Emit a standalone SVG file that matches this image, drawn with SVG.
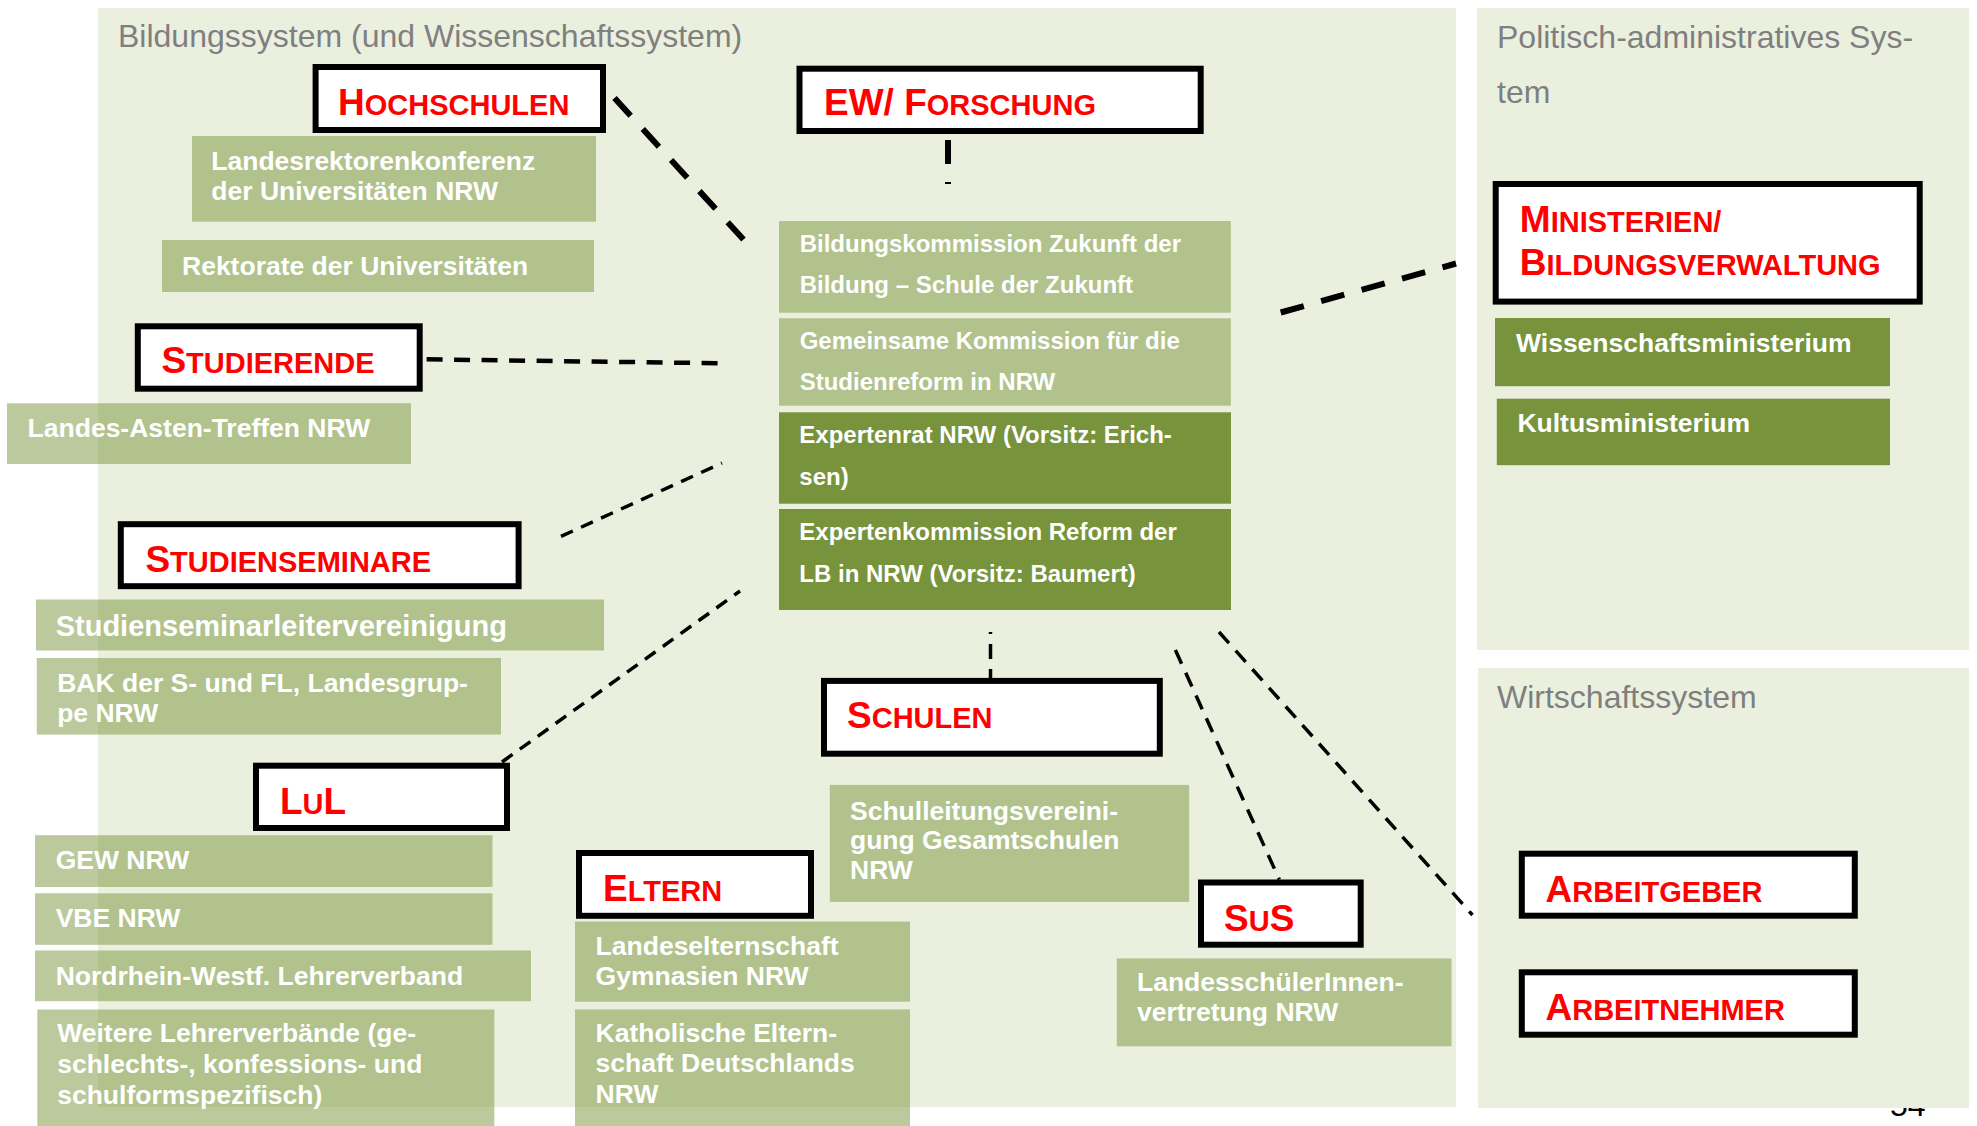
<svg xmlns="http://www.w3.org/2000/svg" width="1977" height="1126" viewBox="0 0 1977 1126">
<style>
.panel{fill:#EBF0DE}
.lg{fill:#77933C;fill-opacity:.5}
.dg{fill:#77933C}
.rb{fill:#fff;stroke:#000;stroke-width:6}
.rt{font-family:"Liberation Sans",Arial,sans-serif;font-weight:bold;fill:#FF0000;font-size:29px}
.b{font-size:37px}
.wt{font-family:"Liberation Sans",Arial,sans-serif;font-weight:bold;fill:#fff;font-size:26.5px}
.ct{font-size:24px}
.big{font-size:29px}
.title{font-family:"Liberation Sans",Arial,sans-serif;fill:#7F7F7F;font-size:32px}
.c{fill:none;stroke:#000}
.c1{stroke-width:6;stroke-dasharray:24 18}
.c2{stroke-width:4.5;stroke-dasharray:16 11.5}
.c3{stroke-width:3.5;stroke-dasharray:13 9}
.c4{stroke-width:3.5;stroke-dasharray:15 10}
</style>
<rect width="1977" height="1126" fill="#fff"/>
<text x="1890" y="1116" font-family="Liberation Sans, Arial, sans-serif" font-size="32" fill="#000">54</text>
<g id="panels">
<rect class="panel" x="98" y="8" width="1358" height="1099"/>
<rect class="panel" x="1477" y="8" width="492" height="642"/>
<rect class="panel" x="1478" y="668" width="491" height="440"/>
<text class="title" x="118" y="47">Bildungssystem (und Wissenschaftssystem)</text>
<text class="title" x="1497" y="48">Politisch-administratives Sys-</text>
<text class="title" x="1497" y="103">tem</text>
<text class="title" x="1497" y="708">Wirtschaftssystem</text>
</g>
<g id="connectors">
<line class="c c1" x1="614.5" y1="98" x2="743.5" y2="239.5"/>
<line class="c c1" x1="948" y1="140" x2="948" y2="184"/>
<line class="c c2" x1="426.6" y1="359.3" x2="722" y2="363.3"/>
<line class="c c1" x1="1280.7" y1="312.5" x2="1456" y2="263.5"/>
<line class="c c3" x1="561" y1="536.4" x2="722" y2="463"/>
<line class="c c3" x1="502" y1="762" x2="740" y2="591"/>
<line class="c c4" x1="990.5" y1="632" x2="990.5" y2="678" stroke-dashoffset="13"/>
<line class="c c4" x1="1175.4" y1="650" x2="1279.3" y2="879.5"/>
<line class="c c4" x1="1219" y1="632" x2="1472.5" y2="915"/>
</g>
<g id="hochschulen">
<rect class="rb" x="315.6" y="67" width="287.4" height="63"/>
<text class="rt" x="338" y="115"><tspan class="b">H</tspan>OCHSCHULEN</text>
</g>
<g id="landesrektorenkonferenz">
<rect class="lg" x="192" y="136" width="404" height="85.7"/>
<text class="wt" x="211.3" y="170">Landesrektorenkonferenz</text>
<text class="wt" x="211.3" y="200">der Universitäten NRW</text>
</g>
<g id="rektorate">
<rect class="lg" x="162" y="240" width="432" height="52"/>
<text class="wt" x="182" y="275">Rektorate der Universitäten</text>
</g>
<g id="ew-forschung">
<rect class="rb" x="799.5" y="68.7" width="401.2" height="62.3"/>
<text class="rt" x="824" y="115"><tspan class="b">EW/ F</tspan>ORSCHUNG</text>
</g>
<g id="bildungskommission">
<rect class="lg" x="779" y="221" width="451.8" height="91.7"/>
<text class="wt ct" x="799.7" y="252.3">Bildungskommission Zukunft der</text>
<text class="wt ct" x="799.7" y="293.3">Bildung – Schule der Zukunft</text>
</g>
<g id="gemeinsame-kommission">
<rect class="lg" x="779" y="318.3" width="451.8" height="87.4"/>
<text class="wt ct" x="799.7" y="349.3">Gemeinsame Kommission für die</text>
<text class="wt ct" x="799.7" y="390">Studienreform in NRW</text>
</g>
<g id="expertenrat">
<rect class="dg" x="779" y="412.3" width="452" height="91.4"/>
<text class="wt ct" x="799.3" y="443.3">Expertenrat NRW (Vorsitz: Erich-</text>
<text class="wt ct" x="799.3" y="485">sen)</text>
</g>
<g id="expertenkommission">
<rect class="dg" x="779" y="509" width="452" height="101"/>
<text class="wt ct" x="799.3" y="540">Expertenkommission Reform der</text>
<text class="wt ct" x="799.3" y="582.3">LB in NRW (Vorsitz: Baumert)</text>
</g>
<g id="studierende">
<rect class="rb" x="137.8" y="326.3" width="281.9" height="62.4"/>
<text class="rt" x="161.4" y="373.3"><tspan class="b">S</tspan>TUDIERENDE</text>
</g>
<g id="landes-asten">
<rect class="lg" x="7" y="403.3" width="404" height="60.7"/>
<text class="wt" x="27.6" y="437">Landes-Asten-Treffen NRW</text>
</g>
<g id="studienseminare">
<rect class="rb" x="120.8" y="524.2" width="397.8" height="62"/>
<text class="rt" x="145.4" y="571.5"><tspan class="b">S</tspan>TUDIENSEMINARE</text>
</g>
<g id="studienseminarleitervereinigung">
<rect class="lg" x="36" y="599.5" width="568" height="51"/>
<text class="wt big" x="55.7" y="635.7">Studienseminarleitervereinigung</text>
</g>
<g id="bak">
<rect class="lg" x="36.8" y="658" width="464.2" height="76.6"/>
<text class="wt" x="57.2" y="692">BAK der S- und FL, Landesgrup-</text>
<text class="wt" x="57.2" y="722.3">pe NRW</text>
</g>
<g id="lul">
<rect class="rb" x="256" y="765.7" width="251" height="62.3"/>
<text class="rt" x="280" y="813.7"><tspan class="b">L</tspan>U<tspan class="b">L</tspan></text>
</g>
<g id="gew">
<rect class="lg" x="35" y="835.2" width="457.5" height="51.8"/>
<text class="wt" x="55.7" y="869.4">GEW NRW</text>
</g>
<g id="vbe">
<rect class="lg" x="35" y="893.3" width="457.5" height="51.5"/>
<text class="wt" x="55.7" y="927">VBE NRW</text>
</g>
<g id="lehrerverband">
<rect class="lg" x="35" y="950.5" width="496" height="50.7"/>
<text class="wt" x="55.7" y="984.7">Nordrhein-Westf. Lehrerverband</text>
</g>
<g id="weitere">
<rect class="lg" x="37.3" y="1009.5" width="457" height="116.5"/>
<text class="wt" x="57.2" y="1042.4">Weitere Lehrerverbände (ge-</text>
<text class="wt" x="57.2" y="1073.3">schlechts-, konfessions- und</text>
<text class="wt" x="57.2" y="1104.2">schulformspezifisch)</text>
</g>
<g id="schulen">
<rect class="rb" x="824" y="680.9" width="335.8" height="72.8"/>
<text class="rt" x="847" y="727.5"><tspan class="b">S</tspan>CHULEN</text>
</g>
<g id="schulleitung">
<rect class="lg" x="829.8" y="784.9" width="359.4" height="117"/>
<text class="wt" x="850" y="819.8">Schulleitungsvereini-</text>
<text class="wt" x="850" y="849">gung Gesamtschulen</text>
<text class="wt" x="850" y="879.2">NRW</text>
</g>
<g id="eltern">
<rect class="rb" x="579" y="853" width="232" height="62.8"/>
<text class="rt" x="603" y="901"><tspan class="b">E</tspan>LTERN</text>
</g>
<g id="landeselternschaft">
<rect class="lg" x="575" y="921.5" width="335" height="80.2"/>
<text class="wt" x="595.6" y="955">Landeselternschaft</text>
<text class="wt" x="595.6" y="984.6">Gymnasien NRW</text>
</g>
<g id="katholische">
<rect class="lg" x="575" y="1009.4" width="335" height="116.6"/>
<text class="wt" x="595.6" y="1042.3">Katholische Eltern-</text>
<text class="wt" x="595.6" y="1072">schaft Deutschlands</text>
<text class="wt" x="595.6" y="1102.7">NRW</text>
</g>
<g id="sus">
<rect class="rb" x="1201" y="882.5" width="159.7" height="62.2"/>
<text class="rt" x="1224" y="930.5"><tspan class="b">S</tspan>U<tspan class="b">S</tspan></text>
</g>
<g id="landesschueler">
<rect class="lg" x="1116.8" y="958.4" width="334.7" height="87.9"/>
<text class="wt" x="1137" y="991">LandesschülerInnen-</text>
<text class="wt" x="1137" y="1021">vertretung NRW</text>
</g>
<g id="ministerien">
<rect class="rb" x="1495.7" y="184" width="424" height="117.6" stroke-width="6.5"/>
<text class="rt" x="1519.8" y="232"><tspan class="b">M</tspan>INISTERIEN/</text>
<text class="rt" x="1519.8" y="274.5"><tspan class="b">B</tspan>ILDUNGSVERWALTUNG</text>
</g>
<g id="wissenschaftsministerium">
<rect class="dg" x="1495" y="318" width="395" height="68.2"/>
<text class="wt" x="1516" y="351.8">Wissenschaftsministerium</text>
</g>
<g id="kultusministerium">
<rect class="dg" x="1496.8" y="398.7" width="393.2" height="66.5"/>
<text class="wt" x="1517.4" y="432">Kultusministerium</text>
</g>
<g id="arbeitgeber">
<rect class="rb" x="1521.8" y="853.7" width="333" height="62"/>
<text class="rt" x="1545.5" y="901.7"><tspan class="b">A</tspan>RBEITGEBER</text>
</g>
<g id="arbeitnehmer">
<rect class="rb" x="1521.8" y="972.3" width="333" height="62.4"/>
<text class="rt" x="1545.5" y="1020"><tspan class="b">A</tspan>RBEITNEHMER</text>
</g>
</svg>
